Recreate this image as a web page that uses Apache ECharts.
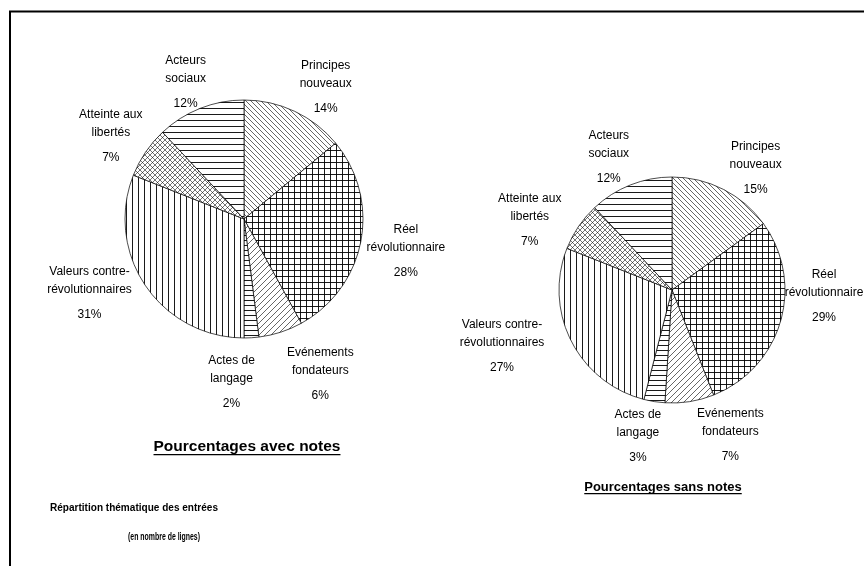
<!DOCTYPE html>
<html>
<head>
<meta charset="utf-8">
<script src="https://cdn.jsdelivr.net/npm/echarts@6/dist/echarts.min.js"></script>
<style>
  html, body { margin: 0; padding: 0; background: #fff; }
  #chart { width: 864px; height: 566px; }
</style>
</head>
<body>
<div id="chart"></div>
<script>
  // data (clockwise from 12 o'clock)
  const categories = ['Principes\nnouveaux', 'Réel\nrévolutionnaire', 'Evénements\nfondateurs', 'Actes de\nlangage',
    'Valeurs contre-\nrévolutionnaires', 'Atteinte aux\nlibertés', 'Acteurs\nsociaux']
  const avecNotes = [14, 28, 6, 2, 31, 7, 12]
  const sansNotes = [15, 29, 7, 3, 27, 7, 12]
  const titleAvec = 'Pourcentages avec notes'
  const titleSans = 'Pourcentages sans notes'
  const subTitle = 'Répartition thématique des entrées'
  const subTitle2 = '(en nombre de lignes)'

  const FONT = '"Liberation Sans", Arial, sans-serif'
  const leftCenter = [244, 219], leftRadius = 119
  const rightCenter = [672, 290], rightRadius = 113
  // small per-label shifts, Excel placed some labels off the mid angle
  const leftNudge = [[14, 16], [-2, 4], [27, 7], [-22, 15], [-11, -20], [3, 13], [-1, 12]]
  const rightNudge = [[14, 18], [-4, -36], [35, 1], [-11, 4], [-21, -16], [-11, 23], [-8, 10]]

  // hatch fills
  function makePattern(size, lineWidth, draw) {
    const c = document.createElement('canvas')
    c.width = size; c.height = size
    const ctx = c.getContext('2d')
    ctx.fillStyle = '#fff'
    ctx.fillRect(0, 0, size, size)
    ctx.strokeStyle = '#000'
    ctx.lineWidth = lineWidth
    ctx.beginPath()
    draw(ctx, size)
    ctx.stroke()
    return { image: c, repeat: 'repeat' }
  }
  const backDiag = (ctx, s) => { for (let k = -1; k <= 1; k++) { ctx.moveTo(k * s, 0); ctx.lineTo(k * s + s, s) } }
  const fwdDiag = (ctx, s) => { for (let k = -1; k <= 1; k++) { ctx.moveTo(k * s + s, 0); ctx.lineTo(k * s, s) } }
  const horiz = (ctx, s) => { ctx.moveTo(0, 0.5); ctx.lineTo(s, 0.5) }
  const vert = (ctx, s) => { ctx.moveTo(0.5, 0); ctx.lineTo(0.5, s) }
  const patterns = [
    makePattern(5, 0.6, backDiag),
    makePattern(6, 0.9, (ctx, s) => { horiz(ctx, s); vert(ctx, s) }),
    makePattern(6, 0.6, fwdDiag),
    makePattern(5, 0.9, horiz),
    makePattern(6, 0.9, vert),
    makePattern(5, 0.55, (ctx, s) => { backDiag(ctx, s); fwdDiag(ctx, s) }),
    makePattern(6, 0.9, horiz)
  ]

  function layoutLabel(params, values, center, radius, nudges) {
    const total = values.reduce((a, b) => a + b, 0)
    let before = 0
    for (let k = 0; k < params.dataIndex; k++) before += values[k]
    const mid = (before + values[params.dataIndex] / 2) / total * Math.PI * 2
    const dx = Math.sin(mid), dy = -Math.cos(mid)
    const w = params.labelRect.width, h = params.labelRect.height
    const dist = radius + 4 + Math.abs(dx) * w / 2 + Math.abs(dy) * h / 2
    const n = nudges[params.dataIndex]
    return {
      x: center[0] + dx * dist + n[0],
      y: center[1] + dy * dist + n[1],
      align: 'center',
      verticalAlign: 'middle'
    }
  }

  function pieSeries(values, center, radius, nudges) {
    return {
      type: 'pie',
      center: center,
      radius: radius,
      startAngle: 90,
      clockwise: true,
      avoidLabelOverlap: false,
      animation: false,
      emphasis: { disabled: true },
      itemStyle: { borderColor: '#000', borderWidth: 0.7 },
      data: categories.map((name, i) => ({ name: name, value: values[i], itemStyle: { color: patterns[i] } })),
      label: {
        show: true,
        position: 'outside',
        color: '#000',
        fontFamily: FONT,
        fontSize: 12,
        formatter: p => '{n|' + p.name + '}\n{p|' + p.value + '%}',
        rich: {
          n: { fontFamily: FONT, fontSize: 12, lineHeight: 18, color: '#000' },
          p: { fontFamily: FONT, fontSize: 12, lineHeight: 32, color: '#000' }
        }
      },
      labelLine: { show: false },
      labelLayout: params => layoutLabel(params, values, center, radius, nudges)
    }
  }

  const measureCtx = document.createElement('canvas').getContext('2d')
  function textWidth(text, font) {
    measureCtx.font = font
    return measureCtx.measureText(text).width
  }

  function underlinedTitle(text, cx, cy, size) {
    const font = 'bold ' + size + 'px ' + FONT
    const w = textWidth(text, font)
    const uy = cy + size * 0.36 + 2
    return [
      { type: 'text', x: cx, y: cy, style: { text: text, font: font, fill: '#000', align: 'center', verticalAlign: 'middle', textAlign: 'center', textVerticalAlign: 'middle' } },
      { type: 'line', shape: { x1: cx - w / 2, y1: uy, x2: cx + w / 2, y2: uy }, style: { stroke: '#000', lineWidth: 1.2 } }
    ]
  }

  function squeezedText(text, cx, cy, size, targetWidth) {
    const font = 'bold ' + size + 'px ' + FONT
    const w = textWidth(text, font)
    return { type: 'text', x: cx, y: cy, scaleX: targetWidth / w, style: { text: text, font: font, fill: '#000', align: 'center', verticalAlign: 'middle', textAlign: 'center', textVerticalAlign: 'middle' } }
  }

  const chartInstance = echarts.init(document.getElementById('chart'), null, { renderer: 'canvas' })
  chartInstance.setOption({
    backgroundColor: '#fff',
    animation: false,
    graphic: [
      { type: 'polyline', shape: { points: [[10, 566], [10, 11.5], [864, 11.5]] }, style: { stroke: '#000', lineWidth: 2, fill: null } },
      ...underlinedTitle(titleAvec, 247, 447, 15.5),
      ...underlinedTitle(titleSans, 663, 487, 13),
      squeezedText(subTitle, 134, 508, 11, 168),
      squeezedText(subTitle2, 164, 537, 11, 72)
    ],
    series: [
      pieSeries(avecNotes, leftCenter, leftRadius, leftNudge),
      pieSeries(sansNotes, rightCenter, rightRadius, rightNudge)
    ]
  })
</script>
</body>
</html>
